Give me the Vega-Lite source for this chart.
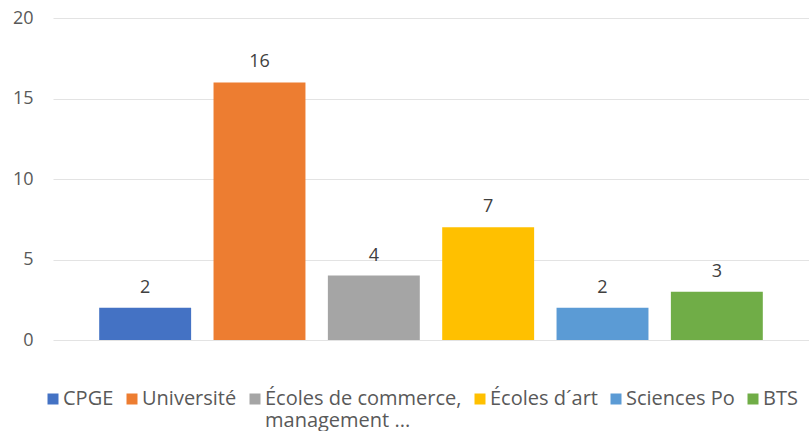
{
  "$schema": "https://vega.github.io/schema/vega-lite/v6.json",
  "autosize": "none",
  "width": 756,
  "height": 322,
  "padding": {"left": 53, "top": 18, "right": 0, "bottom": 91},
  "background": "white",
  "config": {"view": {"stroke": null}},
  "data": {
    "values": [
      {"formation": "CPGE", "nombre": 2},
      {"formation": "Université", "nombre": 16},
      {"formation": "Écoles de commerce, management ...", "nombre": 4},
      {"formation": "Écoles d´art", "nombre": 7},
      {"formation": "Sciences Po", "nombre": 2},
      {"formation": "BTS", "nombre": 3}
    ]
  },
  "encoding": {
    "x": {
      "field": "formation",
      "type": "nominal",
      "sort": null,
      "scale": {"paddingInner": 0.196, "paddingOuter": 0.404},
      "axis": null
    },
    "y": {
      "field": "nombre",
      "type": "quantitative",
      "scale": {"domain": [0, 20]},
      "axis": {
        "title": null,
        "values": [0, 5, 10, 15, 20],
        "domain": false,
        "ticks": false,
        "labelPadding": 20,
        "labelFont": "Open Sans",
        "labelFontSize": 18,
        "labelColor": "#595959",
        "gridColor": "#e3e3e3",
        "gridWidth": 1
      }
    }
  },
  "layer": [
    {
      "mark": {"type": "bar"},
      "encoding": {
        "color": {
          "field": "formation",
          "type": "nominal",
          "sort": null,
          "scale": {
            "domain": ["CPGE", "Université", "Écoles de commerce, management ...", "Écoles d´art", "Sciences Po", "BTS"],
            "range": ["#4472C4", "#ED7D31", "#A5A5A5", "#FFC000", "#5B9BD5", "#70AD47"]
          },
          "legend": {
            "title": null,
            "orient": "none",
            "direction": "horizontal",
            "legendX": -10,
            "legendY": 371,
            "symbolType": "square",
            "symbolSize": 121,
            "symbolStrokeWidth": 0,
            "labelFont": "Open Sans",
            "labelFontSize": 20,
            "labelColor": "#595959",
            "labelOffset": 0,
            "columnPadding": 8,
            "labelLimit": 400,
            "labelExpr": "datum.label == 'Écoles de commerce, management ...' ? ['Écoles de commerce,', 'management ...'] : [datum.label, ' ']"
          }
        }
      }
    },
    {
      "mark": {"type": "text", "baseline": "bottom", "dy": -11, "font": "Open Sans", "fontSize": 18, "color": "#404040"},
      "encoding": {"text": {"field": "nombre", "type": "quantitative"}}
    }
  ]
}
